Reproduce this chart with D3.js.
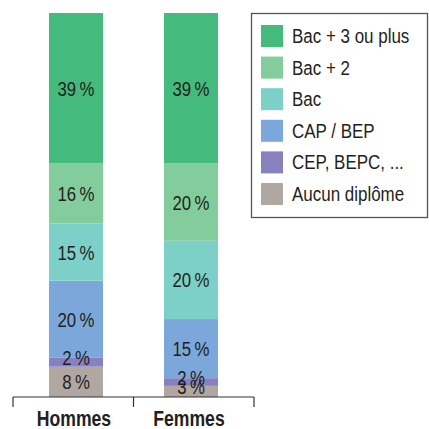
<!DOCTYPE html>
<html>
<head>
<meta charset="utf-8">
<script src="https://cdn.jsdelivr.net/npm/d3@7"></script>
<style>
	body { margin: 0; background: #fff; }
	svg { display: block; }
	text { font-family: "Liberation Sans", Arial, sans-serif; fill: #231f20; }
</style>
</head>
<body>
<div id="chart"></div>
<script>
	'use strict';

	// data, bottom segment first
	var categories = ["Hommes", "Femmes"];
	var levels = ["Aucun diplôme", "CEP, BEPC, ...", "CAP / BEP", "Bac", "Bac + 2", "Bac + 3 ou plus"];
	var hommes = [7.9, 2.3, 20.1, 14.9, 15.7, 39.1];
	var femmes = [2.9, 2.0, 15.4, 20.4, 20.2, 39.1];
	var colors = ["#b0a7a2", "#8781bf", "#7ba7da", "#7dd0c8", "#83cc9b", "#44bb7d"];

	var width = 429, height = 429;
	var svg = d3.select("#chart")
		.append("svg")
		.attr("width", width)
		.attr("height", height);

	// no narrow font installed, squeeze the text instead
	function place(sel, fx, fy, k) {
		sel.attr("transform", function(d, i) {
			return "translate(" + fx(d, i) + "," + fy(d, i) + ") scale(" + (k || 0.8) + ",1)";
		});
	}

	var rows = categories.map(function(c, i) {
		var vals = i === 0 ? hommes : femmes;
		var r = { cat: c };
		levels.forEach(function(l, j) { r[l] = vals[j]; });
		return r;
	});
	var series = d3.stack().keys(levels)(rows);

	var y = d3.scaleLinear().domain([0, 100]).range([397, 13]);
	// bar centers
	var x = d3.scalePoint().domain(categories).range([76, 191]);
	var barW = 54;
	// axis sections
	var xAxis = d3.scaleBand().domain(categories).range([13, 254]);

	var color = d3.scaleOrdinal().domain(levels).range(colors);

	svg.selectAll("g.serie").data(series)
		.enter().append("g")
		.attr("class", "serie")
		.attr("fill", function(d) { return color(d.key); })
		.selectAll("rect").data(function(d) { return d; })
		.enter().append("rect")
		.attr("x", function(d) { return x(d.data.cat) - barW / 2; })
		.attr("width", barW)
		.attr("y", function(d) { return y(d[1]); })
		.attr("height", function(d) { return y(d[0]) - y(d[1]); });

	// labels on top of all the rects
	var segs = [];
	series.forEach(function(s) { s.forEach(function(d) { segs.push(d); }); });
	svg.append("g").selectAll("text").data(segs)
		.enter().append("text")
		.call(place, function(d) { return x(d.data.cat); }, function(d) {
			var v = d[1] - d[0];
			var cy = (y(d[0]) + y(d[1])) / 2;
			return v < 5 ? cy - 5 : cy;
		})
		.attr("dy", "0.36em")
		.attr("text-anchor", "middle")
		.style("font-size", "21px")
		.text(function(d) { return Math.round(d[1] - d[0]) + "\u202F%"; });

	// axis line and ticks
	var axis = svg.append("g").attr("stroke", "#333").attr("stroke-width", 1.2);
	axis.append("line")
		.attr("x1", xAxis.range()[0]).attr("x2", xAxis.range()[1])
		.attr("y1", y(0)).attr("y2", y(0));
	var bounds = categories.map(function(c) { return xAxis(c); }).concat([xAxis.range()[1]]);
	axis.selectAll("line.tick").data(bounds)
		.enter().append("line")
		.attr("class", "tick")
		.attr("x1", function(d) { return d; }).attr("x2", function(d) { return d; })
		.attr("y1", y(0)).attr("y2", y(0) + 10);

	svg.selectAll("text.cat").data(categories)
		.enter().append("text")
		.attr("class", "cat")
		.call(place, function(d) { return x(d) - 2; }, function() { return 426; })
		.attr("text-anchor", "middle")
		.style("font-size", "22px")
		.style("font-weight", "bold")
		.text(function(d) { return d; });

	// legend
	var legend = svg.append("g");
	legend.append("rect")
		.attr("x", 251.5).attr("y", 13.5)
		.attr("width", 176).attr("height", 204)
		.attr("fill", "none")
		.attr("stroke", "#555")
		.attr("stroke-width", 1.3);
	var items = legend.selectAll("g.item").data(levels.slice().reverse())
		.enter().append("g")
		.attr("class", "item")
		.attr("transform", function(d, i) { return "translate(261," + (25 + i * 31.6) + ")"; });
	items.append("rect")
		.attr("width", 22).attr("height", 22)
		.attr("fill", function(d) { return color(d); });
	items.append("text")
		.call(place, function() { return 31; }, function() { return 11; }, 0.87)
		.attr("dy", "0.36em")
		.style("font-size", "19.5px")
		.text(function(d) { return d; });
</script>
</body>
</html>
